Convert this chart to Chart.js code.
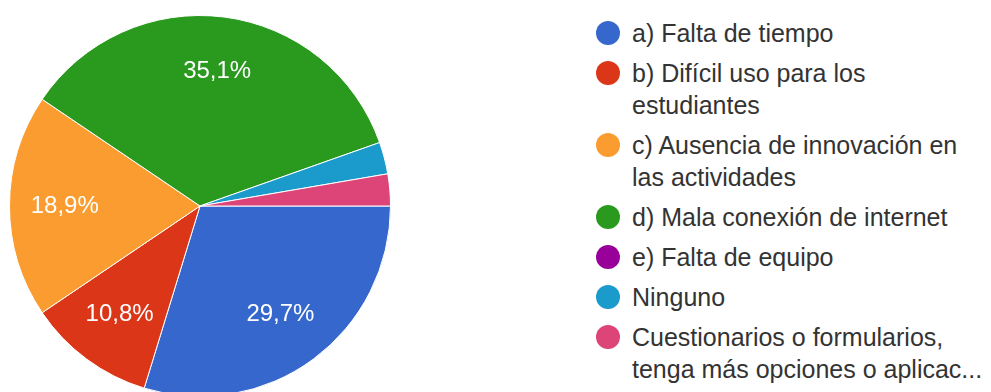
<!DOCTYPE html>
<html>
<head>
<meta charset="utf-8">
<script src="https://cdn.jsdelivr.net/npm/chart.js@4/dist/chart.umd.min.js"></script>
<style>
  html, body { margin: 0; padding: 0; background: #fff; overflow: hidden; width: 991px; height: 392px; }
  #pieBox { position: absolute; left: 0; top: 0; width: 400px; height: 412px; }
  #legend { position: absolute; left: 596px; top: 17px; margin: 0; padding: 0; list-style: none;
            font-family: Arial, "Liberation Sans", sans-serif; font-size: 25px; color: #333; }
  #legend li { position: relative; padding-left: 36px; line-height: 32px; margin-bottom: 8px; white-space: nowrap; }
  #legend .dot { position: absolute; left: 0; top: 4px; width: 24px; height: 24px; border-radius: 50%; }
</style>
</head>
<body>
<div id="pieBox"><canvas id="pieChart"></canvas></div>
<ul id="legend"></ul>
<script>
// Respuestas por opción (37 respuestas en total)
const labels = [
    ['a) Falta de tiempo'],
    ['b) Difícil uso para los', 'estudiantes'],
    ['c) Ausencia de innovación en', 'las actividades'],
    ['d) Mala conexión de internet'],
    ['e) Falta de equipo'],
    ['Ninguno'],
    ['Cuestionarios o formularios,', 'tenga más opciones o aplicac...']
];
const counts = [11, 4, 7, 13, 0, 1, 1];
const colors = ['#3567cd', '#dc3618', '#fa9c30', '#2a9a1f', '#990099', '#1a9bcc', '#dd4477'];

// Percentage labels inside the larger slices
const sliceLabels = {
    id: 'sliceLabels',
    afterDatasetsDraw(chart) {
        const ctx = chart.ctx;
        const data = chart.data.datasets[0].data;
        const total = data.reduce((a, b) => a + b, 0);
        ctx.save();
        ctx.font = '24px Arial, "Liberation Sans", sans-serif';
        ctx.fillStyle = '#ffffff';
        ctx.textAlign = 'center';
        ctx.textBaseline = 'middle';
        chart.getDatasetMeta(0).data.forEach((arc, i) => {
            const pct = data[i] / total * 100;
            if (pct < 5) return;
            const p = arc.getProps(['x', 'y', 'startAngle', 'endAngle', 'outerRadius'], true);
            const mid = (p.startAngle + p.endAngle) / 2;
            const r = p.outerRadius * 0.71;
            ctx.fillText(pct.toFixed(1).replace('.', ',') + '%', p.x + Math.cos(mid) * r, p.y + Math.sin(mid) * r);
        });
        ctx.restore();
    }
};

new Chart(document.getElementById('pieChart'), {
    type: 'pie',
    data: {
        labels: labels,
        datasets: [{
            data: counts,
            backgroundColor: colors,
            borderColor: '#ffffff',
            borderWidth: 1
        }]
    },
    options: {
        responsive: true,
        maintainAspectRatio: false,
        animation: false,
        rotation: 90,
        layout: { padding: { left: 9, right: 9, top: 15, bottom: 15 } },
        plugins: {
            legend: { display: false },
            tooltip: { enabled: false }
        }
    },
    plugins: [sliceLabels]
});

// HTML legend built from the same arrays
const legendEl = document.getElementById('legend');
labels.forEach((lines, i) => {
    const li = document.createElement('li');
    const dot = document.createElement('span');
    dot.className = 'dot';
    dot.style.background = colors[i];
    li.appendChild(dot);
    lines.forEach((line, j) => {
        if (j > 0) li.appendChild(document.createElement('br'));
        li.appendChild(document.createTextNode(line));
    });
    legendEl.appendChild(li);
});
</script>
</body>
</html>
